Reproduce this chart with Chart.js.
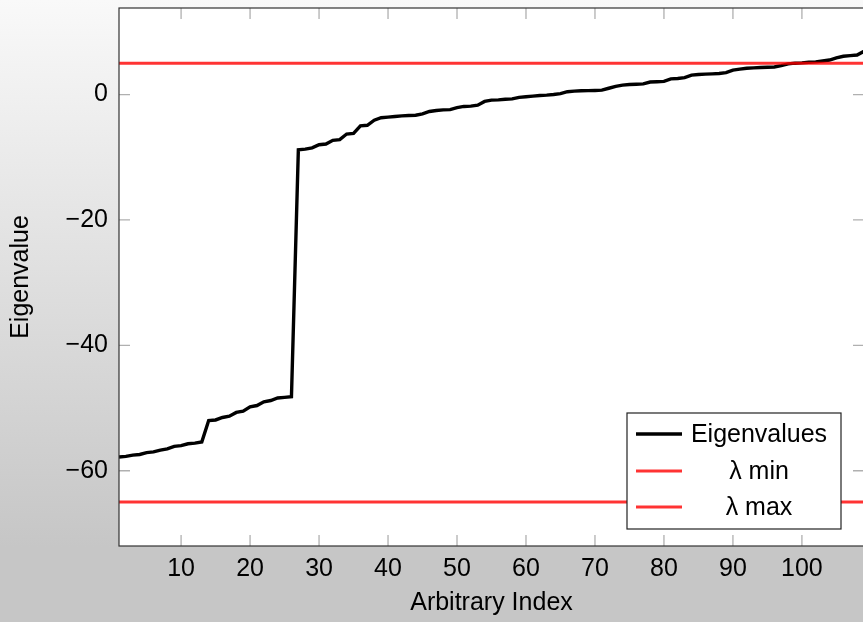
<!DOCTYPE html>
<html>
<head>
<meta charset="utf-8">
<script src="https://cdn.jsdelivr.net/npm/chart.js@4.4.1/dist/chart.umd.min.js"></script>
<style>
  html, body { margin: 0; padding: 0; overflow: hidden; background: #c6c6c6; }
</style>
</head>
<body>
<canvas id="eigenChart" width="880" height="622"></canvas>
<script>
// index along x
const indices = [
  1, 2, 3, 4, 5, 6, 7, 8, 9, 10, 11, 12, 13, 14, 15, 16, 17, 18, 19, 20,
  21, 22, 23, 24, 25, 26, 27, 28, 29, 30, 31, 32, 33, 34, 35, 36, 37, 38, 39, 40,
  41, 42, 43, 44, 45, 46, 47, 48, 49, 50, 51, 52, 53, 54, 55, 56, 57, 58, 59, 60,
  61, 62, 63, 64, 65, 66, 67, 68, 69, 70, 71, 72, 73, 74, 75, 76, 77, 78, 79, 80,
  81, 82, 83, 84, 85, 86, 87, 88, 89, 90, 91, 92, 93, 94, 95, 96, 97, 98, 99, 100,
  101, 102, 103, 104, 105, 106, 107, 108, 109
];
// eigenvalues
const eigenvalues = [
  -57.8, -57.7, -57.5, -57.4, -57.1, -57.0, -56.7, -56.5, -56.1, -56.0,
  -55.7, -55.6, -55.4, -52.0, -51.9, -51.5, -51.3, -50.7, -50.5, -49.8,
  -49.6, -49.0, -48.8, -48.4, -48.3, -48.2, -8.8, -8.7, -8.5, -8.0,
  -7.9, -7.3, -7.2, -6.3, -6.2, -5.0, -4.9, -4.1, -3.7, -3.6,
  -3.5, -3.4, -3.35, -3.3, -3.1, -2.7, -2.55, -2.45, -2.4, -2.1,
  -1.9, -1.85, -1.7, -1.1, -0.9, -0.85, -0.75, -0.7, -0.45, -0.35,
  -0.25, -0.15, -0.1, 0.0, 0.15, 0.45, 0.55, 0.6, 0.62, 0.65,
  0.7, 1.0, 1.3, 1.5, 1.6, 1.65, 1.7, 2.0, 2.05, 2.1,
  2.5, 2.55, 2.7, 3.1, 3.2, 3.25, 3.3, 3.35, 3.5, 3.9,
  4.05, 4.2, 4.25, 4.3, 4.35, 4.4, 4.6, 4.9, 5.0, 5.05,
  5.15, 5.2, 5.35, 5.5, 5.85, 6.1, 6.2, 6.3, 6.9
];
const lambdaMin = -65;
const lambdaMax = 5;
const seriesNames = ["Eigenvalues", "\u03bb min", "\u03bb max"];
const xTickValues = [10, 20, 30, 40, 50, 60, 70, 80, 90, 100];
const yTickValues = [-60, -40, -20, 0];
const xMin = 1, xMax = 109;
const yMin = -72, yMax = 13.8;

const FONT = "'Liberation Sans', Arial, sans-serif";
const RED = "rgba(255, 0, 0, 0.8)";

// background gradient + white plot area
const backgroundPlugin = {
  id: "bg",
  beforeDraw(chart) {
    const { ctx, width, height, chartArea } = chart;
    ctx.save();
    const g = ctx.createLinearGradient(0, 0, 0, height);
    g.addColorStop(0, "#f9f9f9");
    g.addColorStop(0.88, "#c6c6c6");
    g.addColorStop(1, "#c6c6c6");
    ctx.fillStyle = g;
    ctx.fillRect(0, 0, width, height);
    ctx.fillStyle = "#ffffff";
    ctx.fillRect(chartArea.left, chartArea.top, chartArea.right - chartArea.left, chartArea.bottom - chartArea.top);
    ctx.restore();
  },
};

// inward ticks on all four sides, box, and legend
const frameAndLegend = {
  id: "frame",
  beforeDatasetsDraw(chart) {
    const { ctx, chartArea: a, scales } = chart;
    const len = 11;
    ctx.save();
    ctx.strokeStyle = "#b0b0b0";
    ctx.lineWidth = 1.3;
    ctx.beginPath();
    xTickValues.forEach((v) => {
      const px = scales.x.getPixelForValue(v);
      ctx.moveTo(px, a.bottom); ctx.lineTo(px, a.bottom - len);
      ctx.moveTo(px, a.top); ctx.lineTo(px, a.top + len);
    });
    yTickValues.forEach((v) => {
      const py = scales.y.getPixelForValue(v);
      ctx.moveTo(a.left, py); ctx.lineTo(a.left + len, py);
      ctx.moveTo(a.right, py); ctx.lineTo(a.right - len, py);
    });
    ctx.stroke();
    ctx.restore();
  },
  afterDraw(chart) {
    const { ctx, chartArea: a } = chart;
    ctx.save();
    ctx.strokeStyle = "#333333";
    ctx.lineWidth = 1.2;
    ctx.strokeRect(a.left, a.top, a.right - a.left, a.bottom - a.top);

    // legend box (south east)
    const w = 214, h = 116;
    const bx = a.right - 23 - w;
    const by = a.bottom - 17 - h;
    ctx.fillStyle = "#ffffff";
    ctx.fillRect(bx, by, w, h);
    ctx.strokeStyle = "#222222";
    ctx.lineWidth = 1.2;
    ctx.strokeRect(bx, by, w, h);
    const rows = [21, 58, 94];
    ctx.font = "25px " + FONT;
    ctx.textBaseline = "middle";
    chart.data.datasets.forEach((ds, i) => {
      const y = by + rows[i];
      ctx.strokeStyle = ds.borderColor;
      ctx.lineWidth = ds.borderWidth;
      ctx.beginPath();
      ctx.moveTo(bx + 9, y);
      ctx.lineTo(bx + 55, y);
      ctx.stroke();
      ctx.fillStyle = "#000000";
      ctx.textAlign = "center";
      ctx.fillText(ds.label, bx + 132, y + 1);
    });
    ctx.restore();
  },
};

const eigenData = indices.map((x, i) => ({ x: x, y: eigenvalues[i] }));

new Chart("eigenChart", {
  type: "line",
  data: {
    datasets: [
      {
        label: seriesNames[0],
        data: eigenData,
        borderColor: "#000000",
        borderWidth: 3.4,
        pointRadius: 0,
        tension: 0,
        fill: false,
        order: 1,
      },
      {
        label: seriesNames[1],
        data: [{ x: xMin, y: lambdaMin }, { x: xMax, y: lambdaMin }],
        borderColor: RED,
        borderWidth: 3,
        pointRadius: 0,
        fill: false,
        order: 0,
      },
      {
        label: seriesNames[2],
        data: [{ x: xMin, y: lambdaMax }, { x: xMax, y: lambdaMax }],
        borderColor: RED,
        borderWidth: 3,
        pointRadius: 0,
        fill: false,
        order: 0,
      },
    ],
  },
  options: {
    responsive: false,
    animation: false,
    layout: { padding: { top: 8, right: 16, left: 0, bottom: 0 } },
    plugins: {
      legend: { display: false },
      tooltip: { enabled: false },
    },
    scales: {
      x: {
        type: "linear",
        min: xMin,
        max: xMax,
        grid: { display: false, drawTicks: false },
        border: { display: false },
        afterBuildTicks: (scale) => {
          scale.ticks = xTickValues.map((v) => ({ value: v }));
        },
        afterFit: (scale) => {
          scale.height = 76;
          scale.paddingLeft = 0;
          scale.paddingRight = 0;
        },
        ticks: {
          color: "#000000",
          padding: 8,
          maxRotation: 0,
          font: { family: FONT, size: 25 },
          callback: (v) => String(v),
        },
        title: {
          display: true,
          text: "Arbitrary Index",
          color: "#000000",
          padding: { bottom: 4 },
          font: { family: FONT, size: 25 },
        },
      },
      y: {
        type: "linear",
        min: yMin,
        max: yMax,
        grid: { display: false, drawTicks: false },
        border: { display: false },
        afterBuildTicks: (scale) => {
          scale.ticks = yTickValues.map((v) => ({ value: v }));
        },
        afterFit: (scale) => {
          scale.width = 119;
          scale.paddingTop = 0;
          scale.paddingBottom = 0;
        },
        ticks: {
          color: "#000000",
          padding: 11,
          font: { family: FONT, size: 25 },
          callback: (v) => (v < 0 ? "\u2212" + Math.abs(v) : String(v)),
        },
        title: {
          display: true,
          text: "Eigenvalue",
          color: "#000000",
          padding: { top: 6 },
          font: { family: FONT, size: 25 },
        },
      },
    },
  },
  plugins: [backgroundPlugin, frameAndLegend],
});
</script>
</body>
</html>
